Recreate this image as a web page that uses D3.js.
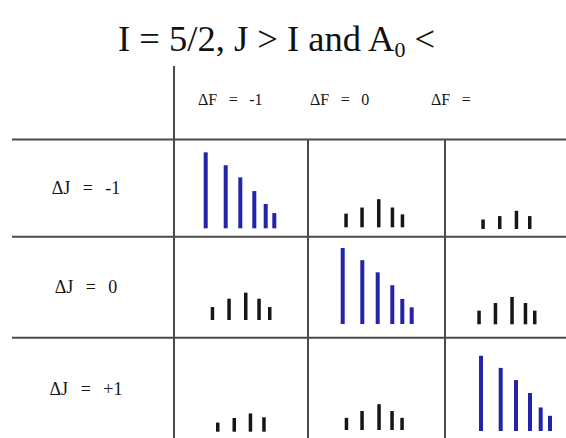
<!DOCTYPE html>
<html>
<head>
<meta charset="utf-8">
<script src="https://cdn.jsdelivr.net/npm/d3@7"></script>
<style>
  html, body { margin: 0; padding: 0; background: #fff; }
  svg { display: block; }
</style>
</head>
<body>
<script>
// ---- data -------------------------------------------------------------
const titleMain = "I = 5/2, J > I and A";
const titleSub = "0";
const titleTail = " <";

const rowLabels = ["ΔJ = -1", "ΔJ = 0", "ΔJ = +1"];
const colLabels = ["ΔF = -1", "ΔF = 0", "ΔF ="];

// Hyperfine line positions (offset within a cell) and relative intensities.
// Row 1: ΔJ = -1
const r1c1Pos = [31.7, 51.7, 66.3, 80.3, 91.7, 100.3];
const r1c1Int = [100, 83, 67, 49, 32, 20];
const r1c2Pos = [38.3, 54.3, 71, 84.7, 94.7];
const r1c2Int = [18, 26, 37, 26, 17];
const r1c3Pos = [38.3, 55, 71.7, 85];
const r1c3Int = [12.5, 17, 24, 17];
// Row 2: ΔJ = 0
const r2c1Pos = [38.7, 55.3, 72, 85.3, 96];
const r2c1Int = [17, 28, 36, 28, 17];
const r2c2Pos = [34.7, 54.3, 69.7, 84.3, 94.3, 103.7];
const r2c2Int = [100, 84, 68, 51, 33, 22];
const r2c3Pos = [34.3, 50.7, 67.3, 80.7, 90];
const r2c3Int = [18, 28, 36, 28, 18];
// Row 3: ΔJ = +1
const r3c1Pos = [44, 60.5, 76.7, 90.2];
const r3c1Int = [12, 18, 24, 19];
const r3c2Pos = [38.7, 54.3, 71.3, 84.3, 94.3];
const r3c2Int = [16, 25, 34, 25, 16];
const r3c3Pos = [36, 55.7, 71, 85, 95.7, 105];
const r3c3Int = [99, 83, 67, 50, 31, 20];

const cells = [
  [[r1c1Pos, r1c1Int], [r1c2Pos, r1c2Int], [r1c3Pos, r1c3Int]],
  [[r2c1Pos, r2c1Int], [r2c2Pos, r2c2Int], [r2c3Pos, r2c3Int]],
  [[r3c1Pos, r3c1Int], [r3c2Pos, r3c2Int], [r3c3Pos, r3c3Int]]
];

// ---- layout -----------------------------------------------------------
const W = 566, H = 438;
const tableLeft = 12;
const colEdges = [174, 308, 445, 582];
const rowEdges = [139.5, 236.7, 337.7, 440];
const baselines = [
  [228.3, 227.3, 229],
  [320, 324, 324.3],
  [431.7, 430, 431]
];
const gridColor = "#4a4a4a";
const strongColor = "#2424aa";
const weakColor = "#161616";
const serif = "'Liberation Serif', 'Times New Roman', serif";

const svg = d3.select("body").append("svg")
  .attr("width", W).attr("height", H);

svg.append("rect").attr("width", W).attr("height", H).attr("fill", "#fff");

// scales: line offset within a cell, and intensity to bar height
const x = d3.scaleLinear().domain([0, 134]).range([0, 134]);
const h = d3.scaleLinear().domain([0, 100]).range([0, 76]);

// title
const title = svg.append("text")
  .attr("x", 118).attr("y", 51)
  .attr("font-family", serif)
  .attr("font-size", 36.5)
  .attr("fill", "#111");
title.append("tspan").text(titleMain);
title.append("tspan").attr("font-size", 22).attr("dy", 6).text(titleSub);
title.append("tspan").attr("dy", -6).text(titleTail);

// grid lines
const grid = svg.append("g").attr("stroke", gridColor).attr("stroke-width", 2);
rowEdges.slice(0, 3).forEach(y => {
  grid.append("line").attr("x1", tableLeft).attr("x2", W).attr("y1", y).attr("y2", y);
});
grid.append("line").attr("x1", colEdges[0]).attr("x2", colEdges[0]).attr("y1", 66).attr("y2", H);
colEdges.slice(1, 3).forEach(xv => {
  grid.append("line").attr("x1", xv).attr("x2", xv).attr("y1", rowEdges[0]).attr("y2", H);
});

// column headers
const headerStarts = [198, 310, 431];
colLabels.forEach((t, i) => {
  svg.append("text")
    .attr("x", headerStarts[i]).attr("y", 105)
    .attr("font-family", serif).attr("font-size", 16).attr("fill", "#151515")
    .attr("word-spacing", 7.5)
    .style("white-space", "pre")
    .text(t);
});

// row labels
rowLabels.forEach((t, i) => {
  const cy = (rowEdges[i] + rowEdges[i + 1]) / 2;
  svg.append("text")
    .attr("x", 86).attr("y", cy + 6)
    .attr("text-anchor", "middle")
    .attr("font-family", serif).attr("font-size", 18).attr("fill", "#151515")
    .attr("word-spacing", 8)
    .text(t);
});

// spectral lines
cells.forEach((row, ri) => {
  row.forEach(([pos, inten], ci) => {
    const strong = ri === ci;
    const g = svg.append("g").attr("transform", `translate(${colEdges[ci]},0)`);
    const base = baselines[ri][ci];
    g.selectAll("rect")
      .data(pos.map((p, k) => ({ p, v: inten[k] })))
      .join("rect")
      .attr("x", d => x(d.p) - 2)
      .attr("width", strong ? 4 : 3.5)
      .attr("y", d => base - h(d.v))
      .attr("height", d => h(d.v))
      .attr("fill", strong ? strongColor : weakColor);
  });
});
</script>
</body>
</html>
